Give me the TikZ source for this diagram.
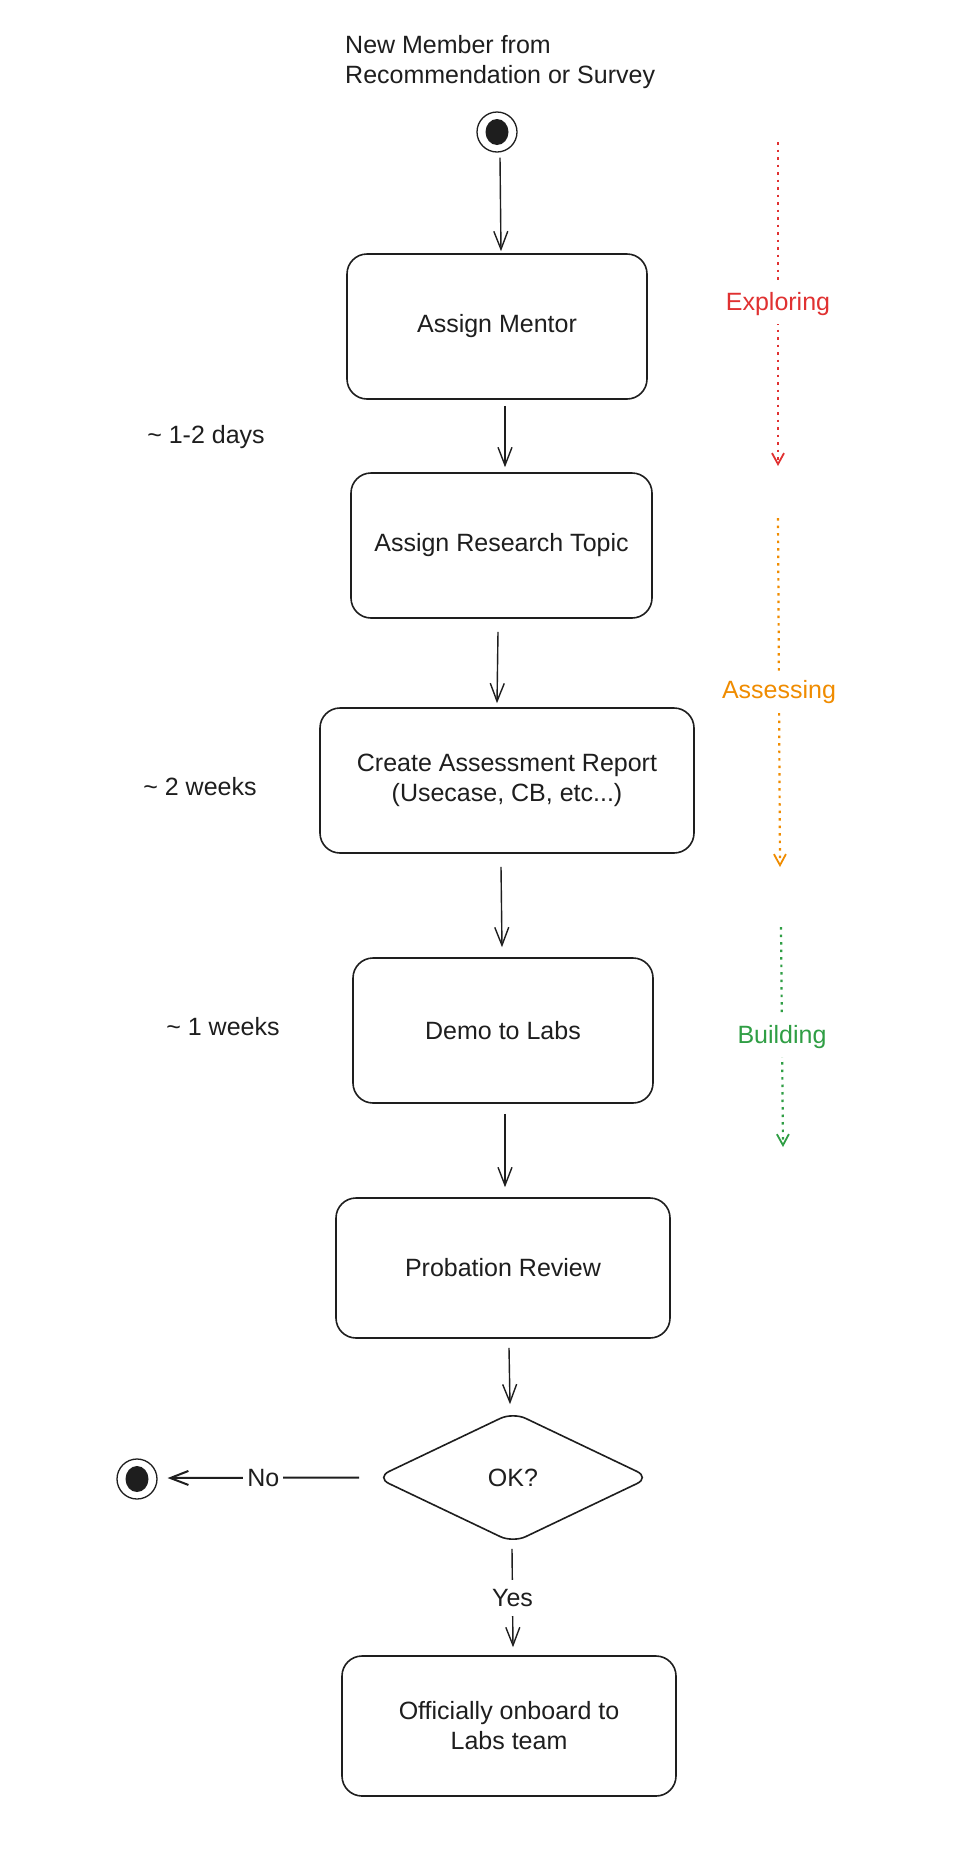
\documentclass[tikz,border=0pt]{standalone}
\usepackage{fontspec}
\setmainfont{Liberation Sans}
\usetikzlibrary{arrows.meta,shapes.geometric,calc}
\definecolor{ink}{HTML}{1E1E1E}
\definecolor{exred}{HTML}{E03131}
\definecolor{exorange}{HTML}{F08C00}
\definecolor{exgreen}{HTML}{2F9E44}
\begin{document}
\begin{tikzpicture}[x=1pt,y=-1pt,
  every node/.style={font=\fontsize{25}{30}\selectfont, text=ink},
  stepbox/.style={draw=ink, line width=1.6pt, rounded corners=20pt, align=center, inner sep=0pt},
  decision/.style={diamond, draw=ink, line width=1.6pt, rounded corners=14pt, inner sep=0pt, aspect=2.09},
  flow/.style={draw=ink, line width=1.4pt, -{Straight Barb[length=18pt,width=14pt]}},
  terminal/.style={circle, draw=ink, line width=1.3pt, minimum size=40pt, inner sep=0pt,
     path picture={\fill[ink] (path picture bounding box.center) ellipse (11.5pt and 13pt);}},
  edgelabel/.style={fill=white, inner xsep=4pt, inner ysep=9pt},
  phase/.style={line width=2.2pt, dash pattern=on 2.5pt off 5pt, -{Straight Barb[length=11pt,width=12pt,line width=1.8pt]}},
  phaselabel/.style={fill=white, inner xsep=2pt, inner ysep=8pt},
]
\useasboundingbox[fill=white] (0,0) rectangle (975,1850);

% title
\node[anchor=north west, align=left, inner sep=0pt] (title) at (345,35) {New Member from\\Recommendation or Survey};

% terminals
\node[terminal] (start) at (497,132) {};
\node[terminal] (finish) at (137,1479) {};

% steps
\node[stepbox, minimum width=300pt, minimum height=145pt] (mentor) at (497,326.5) {Assign Mentor};
\node[stepbox, minimum width=301pt, minimum height=145pt] (topic) at (501.5,545.5) {Assign Research Topic};
\node[stepbox, minimum width=374pt, minimum height=145pt] (report) at (507,780.5) {Create Assessment Report\\(Usecase, CB, etc...)};
\node[stepbox, minimum width=300pt, minimum height=145pt] (demo) at (503,1030.5) {Demo to Labs};
\node[stepbox, minimum width=334pt, minimum height=140pt] (review) at (503,1268) {Probation Review};
\node[decision, minimum width=274pt, minimum height=131pt] (ok) at (513,1477.5) {OK?};
\node[stepbox, minimum width=334pt, minimum height=140pt] (onboard) at (509,1726) {Officially onboard to\\Labs team};

% durations
\node (d1) at (206,437) {\textasciitilde{} 1-2 days};
\node (d2) at (200,787) {\textasciitilde{} 2 weeks};
\node (d3) at (223,1027) {\textasciitilde{} 1 weeks};

% flow arrows
\draw[flow] ($(start.south)+(3,5)$) -- ($(mentor.north)+(4,-2)$);
\draw[flow] ($(mentor.south)+(8,6)$) -- ($(topic.north)+(3.5,-5)$);
\draw[flow] ($(topic.south)+(-3.5,13)$) -- ($(report.north)+(-10,-4)$);
\draw[flow] ($(report.south)+(-6,13)$) -- ($(demo.north)+(-1,-10)$);
\draw[flow] ($(demo.south)+(2,10)$) -- ($(review.north)+(2,-10)$);
\draw[flow] ($(review.south)+(6,9)$) -- ($(ok.north)+(-3,-7)$);
\draw[flow, line width=2pt] ($(ok.west)+(-16,0)$) -- node[edgelabel] (nolab) {No} ($(finish.east)+(10,-1)$);
\draw[flow] ($(ok.south)+(-1,5)$) -- node[edgelabel] (yeslab) {Yes} ($(onboard.north)+(4,-8)$);

% phases
\coordinate (e1) at (778,142);
\coordinate (e2) at (778,466);
\coordinate (a1) at (778,518);
\coordinate (a2) at (780,867);
\coordinate (b1) at (781,927);
\coordinate (b2) at (783,1147);
\draw[phase, exred] (e1) -- node[phaselabel, text=exred] (explab) {Exploring} (e2);
\draw[phase, exorange] (a1) -- node[phaselabel, text=exorange] (asslab) {Assessing} (a2);
\draw[phase, exgreen] (b1) -- node[phaselabel, text=exgreen] (buildlab) {Building} (b2);
\end{tikzpicture}
\end{document}
